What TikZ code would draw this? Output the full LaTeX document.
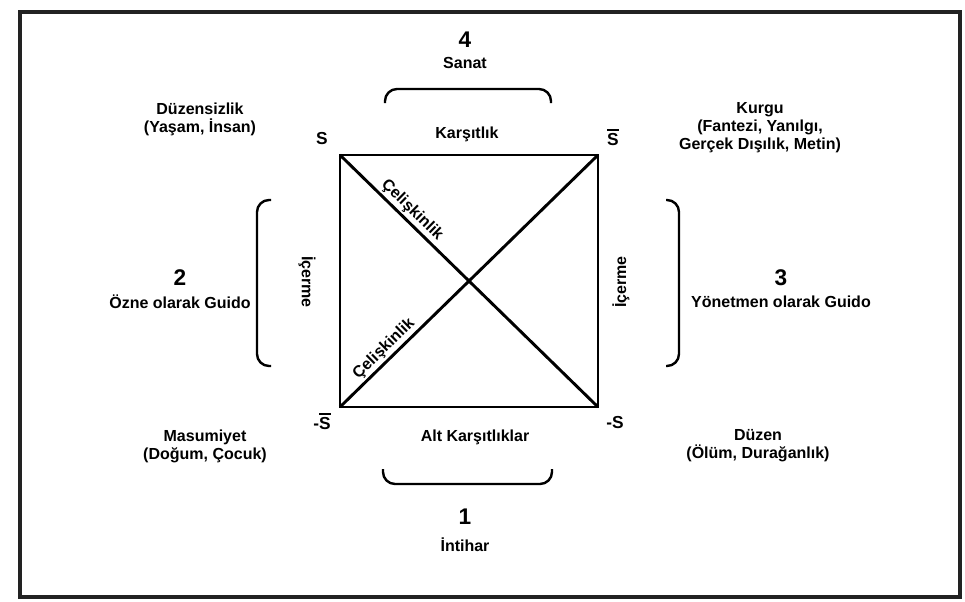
\documentclass[tikz,border=0pt]{standalone}
\usepackage{fontspec}
\setmainfont{Liberation Sans}
\usetikzlibrary{positioning}
\definecolor{framegray}{HTML}{222222}
\tikzstyle{lbl} = [font=\bfseries\fontsize{12}{13.5}\selectfont, align=center, inner sep=1pt]
\tikzstyle{num} = [font=\bfseries\fontsize{17}{19}\selectfont, inner sep=1pt]
\tikzstyle{corner} = [font=\bfseries\fontsize{13}{15}\selectfont, inner sep=1pt]
\tikzstyle{diag} = [font=\bfseries\fontsize{12}{14}\selectfont, inner sep=1.5pt]
\tikzstyle{sqline} = [line width=2.2pt]
\tikzstyle{brace} = [line width=1.8pt, rounded corners=9pt]
\newcommand{\sbar}{\vbox{\hrule height 1.3pt\kern1.8pt\hbox{S}}}

\begin{document}
\begin{tikzpicture}[x=0.75pt, y=-0.75pt, node distance=18pt]
        \useasboundingbox (0,0) rectangle (965,601);
        \draw[framegray, line width=2.4pt] (20,12) rectangle (960,597);
        % corners of the square
        \coordinate (tl) at (340,155);
        \coordinate (tr) at (598,155);
        \coordinate (bl) at (340,407);
        \coordinate (br) at (598,407);
        \draw[sqline] (tl) -- (tr) -- (br) -- (bl) -- cycle;
        \draw[sqline] (tl) -- node[diag, sloped, above, pos=0.25] {Çelişkinlik} (br);
        \draw[sqline] (bl) -- node[diag, sloped, above, pos=0.2] {Çelişkinlik} (tr);
        \node(s) [corner] at (322,139) {S};
        \node(sb) [corner] at (613,137) {\sbar};
        \node(nsb) [corner] at (322,421) {-\sbar};
        \node(ns) [corner] at (615,423) {-S};
        \node(kars) [lbl] at (467,134) {Karşıtlık};
        \node(altkars) [lbl] at (475,437) {Alt Karşıtlıklar};
        \node(icl) [lbl, rotate=-90] at (307,282) {İçerme};
        \node(icr) [lbl, rotate=90] at (621,282) {İçerme};
        % corner terms
        \node(duzsiz) [lbl] at (200,119) {Düzensizlik\\(Yaşam, İnsan)};
        \node(kurgu) [lbl] at (760,128) {Kurgu\\(Fantezi, Yanılgı,\\Gerçek Dışılık, Metin)};
        \node(masum) [lbl] at (205,446) {Masumiyet\\(Doğum, Çocuk)};
        \node(duzen) [lbl] at (758,446) {Düzen\\(Ölüm, Durağanlık)};
        % numbered sides
        \node(num4) [num] at (465,40) {4};
        \node(sanat) [lbl, below of = num4, yshift=1pt] {Sanat};
        \node(num2) [num] at (180,278) {2};
        \node(ozne) [lbl, below of = num2] {Özne olarak Guido};
        \node(num3) [num] at (781,278) {3};
        \node(yonet) [lbl, below of = num3] {Yönetmen olarak Guido};
        \node(num1) [num] at (465,517) {1};
        \node(intihar) [lbl, below of = num1, yshift=-3pt] {İntihar};
        % braces
        \draw[brace] (385,103) -- (385,89) -- (551,89) -- (551,103);
        \draw[brace] (383,469) -- (383,484) -- (552,484) -- (552,469);
        \draw[brace] (271,200) -- (257,200) -- (257,366) -- (271,366);
        \draw[brace] (666,200) -- (679,200) -- (679,366) -- (666,366);
\end{tikzpicture}
\end{document}
